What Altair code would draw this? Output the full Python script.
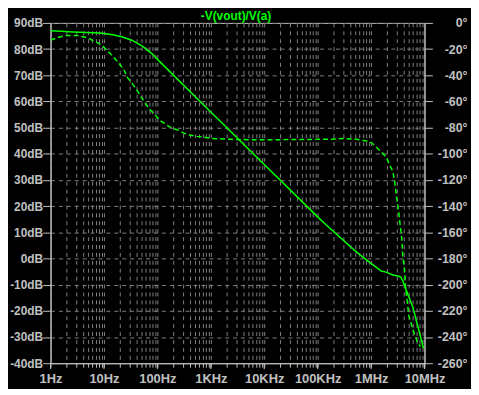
import altair as alt
import pandas as pd

# ---- data ----
mag_freq = [1.0, 1.53, 2.66, 8.4, 14.6, 22.3, 34.1, 52.2, 79.8, 108, 1000, 10000, 100000,
            148600, 468000, 604000, 925000, 1245000, 1542000, 1905000, 2564000, 3177000,
            3606000, 3926000, 4457000, 6012000, 7430000, 9594000]
mag_db = [87.0, 86.8, 86.5, 86.1, 85.5, 84.6, 83.3, 81.1, 78.2, 75.4, 56.0, 35.9, 15.9,
          12.6, 3.5, 1.6, -1.4, -3.3, -4.8, -5.2, -6.3, -6.7,
          -7.1, -8.6, -11.6, -18.4, -25.6, -34.3]

phase_freq = [1.0, 1.29, 1.60, 1.98, 2.55, 3.16, 3.90, 5.04, 6.22, 7.71, 9.53, 11.8, 14.6,
              18.0, 23.3, 27.6, 34.1, 42.2, 52.2, 70.3, 86.9, 108, 133, 164, 204, 252, 312,
              420, 542, 729, 1026, 2113, 4943, 20140, 161800, 306200, 532100, 814700,
              1007000, 1245000, 1542000, 1905000, 2163000, 2564000, 2793000, 3041000,
              3311000, 3459000, 3767000, 3926000, 4276000, 4457000, 4853000, 5070000,
              5754000, 6266000, 7430000, 8433000]
phase_deg = [-13.2, -11.5, -10.4, -9.7, -9.5, -9.7, -10.4, -11.5, -13.5, -15.3, -17.8, -21.6,
             -25.4, -29.7, -35.2, -41.8, -46.6, -51.9, -57.9, -65.7, -69.5, -74.0, -76.6,
             -79.1, -80.8, -82.1, -84.2, -85.9, -86.7, -87.2, -88.2, -88.9, -89.2, -89.2,
             -88.9, -88.4, -88.9, -90.2, -91.4, -94.8, -98.6, -102.3, -107.3, -113.7,
             -122.5, -135.1, -145.2, -152.8, -165.4, -178.0, -190.6, -203.3, -215.9,
             -223.5, -231.0, -236.0, -243.9, -247.2]

title_text = "-V(vout)/V(a)"
db_ticks = list(range(-40, 91, 10))
deg_ticks = list(range(-260, 1, 20))
decades = [1, 10, 100, 1000, 10000, 100000, 1000000, 10000000]
decade_labels = ["1Hz", "10Hz", "100Hz", "1KHz", "10KHz", "100KHz", "1MHz", "10MHz"]
minor_ticks = [m * d for d in decades[:-1] for m in range(1, 10)] + [decades[-1]]

# ---- styling ----
W, H = 378, 344
GREEN = "#00ff00"
AXC = "#c0c0c0"
GRIDC = "#808080"

label_expr = "".join(f"datum.value == {v} ? '{l}' : " for v, l in zip(decades, decade_labels)) + "''"

xscale = alt.Scale(type="log", domain=[1, 1e7], nice=False)
x_axis = alt.Axis(values=minor_ticks, labelExpr=label_expr, grid=True, gridDash=[4, 4],
                  gridColor=GRIDC, tickSize=4, labelPadding=5, labelFlush=False,
                  labelOverlap=False, labelBound=False, title=None)

df_mag = pd.DataFrame({"f": mag_freq, "db": mag_db})
df_ph = pd.DataFrame({"f": phase_freq, "deg": phase_deg})
df_dec = pd.DataFrame({"f": decades})

mag = alt.Chart(df_mag).mark_line(color=GREEN, strokeWidth=1.5, clip=True).encode(
    x=alt.X("f:Q", scale=xscale, axis=x_axis),
    y=alt.Y("db:Q", scale=alt.Scale(domain=[-40, 90], nice=False, zero=False),
            axis=alt.Axis(orient="left", values=db_ticks, labelExpr="datum.value + 'dB'",
                          grid=True, gridDash=[4, 4], gridColor=GRIDC, tickSize=8,
                          labelPadding=0, labelFontSize=12, title=None)),
)

phase = alt.Chart(df_ph).mark_line(color=GREEN, strokeWidth=1.5, strokeDash=[5, 3], clip=True).encode(
    x=alt.X("f:Q", scale=xscale, axis=x_axis),
    y=alt.Y("deg:Q", scale=alt.Scale(domain=[-260, 0], nice=False, zero=False),
            axis=alt.Axis(orient="right", values=deg_ticks, labelExpr="datum.value + '°'",
                          grid=False, tickSize=8, labelAlign="right", labelPadding=35,
                          labelFontSize=12.5, title=None)),
)

major = alt.Chart(df_dec).mark_rule(color=AXC, strokeWidth=1).encode(
    x=alt.X("f:Q", scale=xscale, axis=x_axis),
    y=alt.value(H), y2=alt.value(H + 6),
)

title = alt.Chart(pd.DataFrame({"t": [title_text]})).mark_text(
    color=GREEN, font="Liberation Sans", fontWeight="bold", fontSize=12, baseline="alphabetic"
).encode(text="t:N", x=alt.value(W / 2 - 1.5), y=alt.value(-3))

chart = alt.layer(mag, phase, major, title).resolve_scale(y="independent").properties(
    width=W, height=H,
    padding={"left": 43, "top": 13, "right": 47, "bottom": 24},
    autosize=alt.AutoSizeParams(type="none"),
    background="#000000",
).configure_view(stroke=AXC, strokeWidth=1).configure_axis(
    labelFont="Liberation Sans", labelFontWeight="bold", labelFontSize=13,
    labelColor=AXC, domainColor=AXC, tickColor=AXC, domainWidth=1, tickWidth=1,
)

chart.save("out.html", embed_options={"renderer": "svg", "actions": False})
